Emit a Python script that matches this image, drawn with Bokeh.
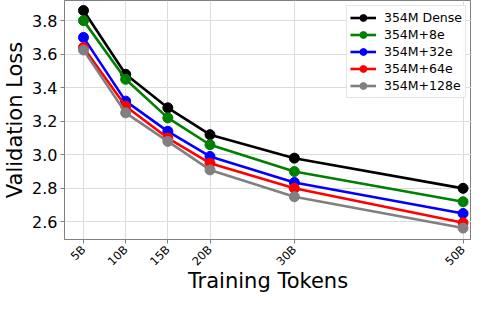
import math
from bokeh.plotting import figure
from bokeh.models import FixedTicker, Range1d, NumeralTickFormatter
from bokeh.embed import file_html
from bokeh.resources import INLINE

tokens = [5, 10, 15, 20, 30, 50]
tick_labels = ["5B", "10B", "15B", "20B", "30B", "50B"]

dense = [3.86, 3.48, 3.28, 3.12, 2.98, 2.80]
e8 = [3.80, 3.45, 3.22, 3.06, 2.90, 2.72]
e32 = [3.70, 3.32, 3.14, 2.99, 2.835, 2.65]
e64 = [3.64, 3.29, 3.10, 2.95, 2.80, 2.595]
e128 = [3.625, 3.25, 3.08, 2.91, 2.75, 2.563]

series_names = ["354M Dense", "354M+8e", "354M+32e", "354M+64e", "354M+128e"]
series_values = [dense, e8, e32, e64, e128]
series_colors = ["#000000", "#008000", "#0000ff", "#ff0000", "#808080"]

y_ticks = [2.6, 2.8, 3.0, 3.2, 3.4, 3.6, 3.8]

FONT = "DejaVu Sans"

p = figure(width=471, height=296, output_backend="svg", toolbar_location=None,
           x_range=Range1d(2.75, 51.0), y_range=Range1d(2.495, 3.92),
           min_border_left=0, min_border_right=0, min_border_top=0, min_border_bottom=0)

p.outline_line_color = "#808080"
p.outline_line_width = 1
p.background_fill_color = "white"
p.border_fill_color = "white"

for name, vals, col in zip(series_names, series_values, series_colors):
    p.line(tokens, vals, line_color=col, line_width=2.6, legend_label=name)
    p.scatter(tokens, vals, marker="circle", size=10, fill_color=col, line_color=col,
              legend_label=name)

# axes
p.xaxis.ticker = FixedTicker(ticks=tokens)
p.xaxis.major_label_overrides = {t: l for t, l in zip(tokens, tick_labels)}
p.xaxis.major_label_orientation = math.pi / 4
p.yaxis.ticker = FixedTicker(ticks=y_ticks)
p.yaxis.formatter = NumeralTickFormatter(format="0.0")

for ax in (p.xaxis, p.yaxis):
    ax.axis_line_color = "#808080"
    ax.major_tick_line_color = "#808080"
    ax.major_tick_out = 4
    ax.major_tick_in = 0
    ax.minor_tick_line_color = None
    ax.major_label_text_font = FONT
    ax.major_label_text_color = "#000000"
    ax.axis_label_text_font = FONT
    ax.axis_label_text_font_style = "normal"
    ax.axis_label_text_color = "#000000"
    ax.axis_label_text_font_size = "21px"

p.xaxis.major_label_text_font_size = "11.5px"
p.yaxis.major_label_text_font_size = "16px"
p.xaxis.major_label_standoff = 4
p.yaxis.major_label_standoff = 3
p.xaxis.axis_label = "Training Tokens"
p.yaxis.axis_label = "Validation Loss"
p.xaxis.axis_label_standoff = -7
p.yaxis.axis_label_standoff = 2

p.xgrid.ticker = FixedTicker(ticks=tokens)
p.ygrid.ticker = FixedTicker(ticks=y_ticks)
p.grid.grid_line_color = "#dcdcdc"
p.grid.grid_line_width = 1

# legend
lg = p.legend[0]
lg.location = "top_right"
lg.margin = 5
lg.padding = 3
lg.spacing = 0
lg.glyph_width = 26
lg.glyph_height = 17
lg.label_standoff = 8
lg.label_height = 17
lg.label_text_font = FONT
lg.label_text_font_size = "12.5px"
lg.label_text_color = "#000000"
lg.border_line_color = "#cccccc"
lg.border_line_width = 1
lg.background_fill_color = "white"
lg.background_fill_alpha = 0.9

open("out.html", "w").write(file_html(p, INLINE))
